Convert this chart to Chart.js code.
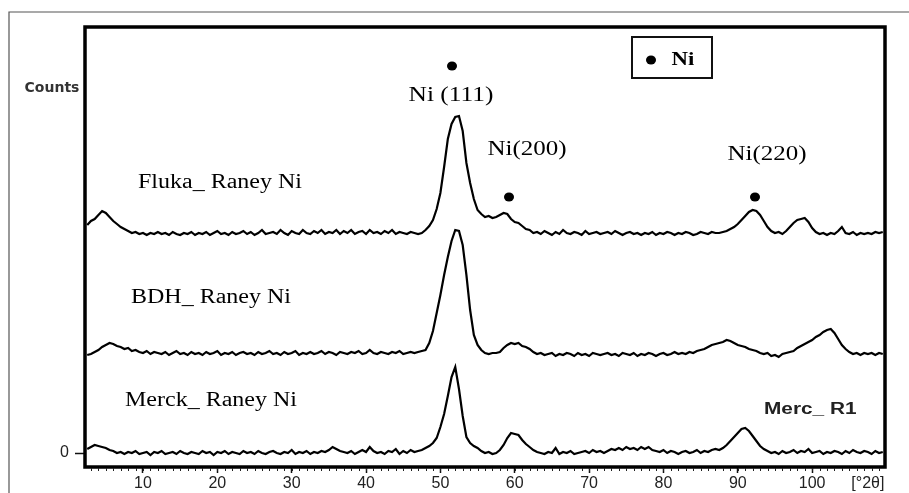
<!DOCTYPE html>
<html>
<head>
<meta charset="utf-8">
<script src="https://cdn.jsdelivr.net/npm/chart.js@4.4.1/dist/chart.umd.min.js"></script>
<style>
  html, body { margin: 0; padding: 0; background: #fff; }
  #xrd { display: block; }
</style>
</head>
<body>
<canvas id="xrd" width="909" height="493"></canvas>
<script>
// 2-theta positions (degrees), shared by the three patterns
const angles = [
  2.5, 3, 3.5, 4, 4.5, 5, 5.5, 6, 6.5, 7,
  7.5, 8, 8.5, 9, 9.5, 10, 10.5, 11, 11.5, 12,
  12.5, 13, 13.5, 14, 14.5, 15, 15.5, 16, 16.5, 17,
  17.5, 18, 18.5, 19, 19.5, 20, 20.5, 21, 21.5, 22,
  22.5, 23, 23.5, 24, 24.5, 25, 25.5, 26, 26.5, 27,
  27.5, 28, 28.5, 29, 29.5, 30, 30.5, 31, 31.5, 32,
  32.5, 33, 33.5, 34, 34.5, 35, 35.5, 36, 36.5, 37,
  37.5, 38, 38.5, 39, 39.5, 40, 40.5, 41, 41.5, 42,
  42.5, 43, 43.5, 44, 44.5, 45, 45.5, 46, 46.5, 47,
  47.5, 48, 48.5, 49, 49.5, 50, 50.5, 51, 51.5, 52,
  52.5, 53, 53.5, 54, 54.5, 55, 55.5, 56, 56.5, 57,
  57.5, 58, 58.5, 59, 59.5, 60, 60.5, 61, 61.5, 62,
  62.5, 63, 63.5, 64, 64.5, 65, 65.5, 66, 66.5, 67,
  67.5, 68, 68.5, 69, 69.5, 70, 70.5, 71, 71.5, 72,
  72.5, 73, 73.5, 74, 74.5, 75, 75.5, 76, 76.5, 77,
  77.5, 78, 78.5, 79, 79.5, 80, 80.5, 81, 81.5, 82,
  82.5, 83, 83.5, 84, 84.5, 85, 85.5, 86, 86.5, 87,
  87.5, 88, 88.5, 89, 89.5, 90, 90.5, 91, 91.5, 92,
  92.5, 93, 93.5, 94, 94.5, 95, 95.5, 96, 96.5, 97,
  97.5, 98, 98.5, 99, 99.5, 100, 100.5, 101, 101.5, 102,
  102.5, 103, 103.5, 104, 104.5, 105, 105.5, 106, 106.5, 107,
  107.5, 108, 108.5, 109, 109.5
];

// counts, stacked patterns (offsets already in the values)
const fluka = [
  2280, 2320, 2340, 2380, 2420, 2400, 2360, 2320, 2290, 2260,
  2240, 2220, 2200, 2210, 2190, 2200, 2180, 2200, 2190, 2210,
  2190, 2200, 2180, 2210, 2190, 2180, 2200, 2190, 2210, 2180,
  2200, 2190, 2210, 2180, 2200, 2220, 2190, 2200, 2180, 2210,
  2190, 2200, 2220, 2190, 2210, 2180, 2200, 2230, 2190, 2200,
  2210, 2190, 2230, 2200, 2180, 2220, 2200, 2190, 2230, 2200,
  2190, 2220, 2200, 2230, 2190, 2210, 2200, 2230, 2190, 2220,
  2200, 2230, 2190, 2210, 2220, 2190, 2230, 2200, 2210, 2190,
  2220, 2200, 2230, 2190, 2210, 2200, 2190, 2210, 2200, 2190,
  2200, 2230, 2270, 2330, 2440, 2600, 2860, 3140, 3290, 3360,
  3370, 3220, 2900, 2700, 2540, 2430, 2390, 2360, 2370, 2350,
  2360, 2380, 2400, 2390, 2340, 2310, 2300, 2270, 2240, 2230,
  2200, 2210, 2190, 2220, 2200, 2180, 2210, 2190, 2230, 2200,
  2190, 2210, 2200, 2180, 2220, 2190, 2200, 2210, 2190, 2200,
  2210, 2190, 2220, 2200, 2180, 2200, 2210, 2190, 2200, 2180,
  2200, 2190, 2210, 2180, 2200, 2190, 2210, 2200, 2180, 2200,
  2190, 2210, 2200, 2180, 2190, 2210, 2200, 2190, 2210, 2200,
  2200, 2210, 2220, 2240, 2260, 2290, 2330, 2370, 2410, 2430,
  2420, 2380, 2320, 2260, 2220, 2200, 2210, 2190, 2220, 2260,
  2300, 2330, 2340, 2350, 2310, 2250, 2210, 2190, 2200, 2180,
  2200, 2190, 2220, 2260, 2200, 2190, 2210, 2180, 2200, 2190,
  2200, 2190, 2210, 2200, 2210
];

const bdh = [
  980, 990, 1010, 1030, 1060, 1080, 1100, 1090, 1070, 1060,
  1040, 1050, 1020, 1030, 1010, 1000, 1020, 990, 1010, 1000,
  990, 1010, 980, 1000, 1020, 990, 1000, 980, 1010, 990,
  1000, 980, 1010, 990, 1000, 1020, 980, 1000, 990, 1010,
  980, 1000, 1010, 990, 1000, 980, 1010, 990, 1000, 1020,
  990, 1000, 980, 1010, 990, 1000, 1020, 980, 1000, 990,
  1010, 990, 1000, 1020, 990, 1010, 1000, 980, 1010, 1000,
  990, 1010, 1000, 1020, 990, 1000, 1030, 1000, 990, 1010,
  1000, 990, 1010, 1000, 1020, 990, 1000, 1010, 1000, 1010,
  1020, 1030, 1100, 1220, 1400, 1580, 1780, 1960, 2120, 2230,
  2220, 2080, 1780, 1430, 1180, 1080, 1030, 1000, 990, 1000,
  1000, 1010, 1050, 1080, 1100, 1090, 1100, 1070, 1060, 1040,
  1010, 990, 1000, 980, 990, 1000, 970, 990, 980, 1000,
  990, 970, 1000, 980, 990, 970, 1000, 990, 980, 990,
  1000, 980, 990, 970, 1000, 990, 980, 1000, 970, 990,
  980, 1000, 990, 970, 990, 1000, 980, 990, 1010, 990,
  1000, 990, 1010, 1000, 1020, 1030, 1040, 1060, 1080, 1090,
  1100, 1110, 1130, 1120, 1100, 1080, 1070, 1060, 1040, 1030,
  1020, 1000, 990, 1000, 970, 980, 960, 990, 1000, 1010,
  1020, 1050, 1070, 1090, 1110, 1130, 1160, 1180, 1210, 1230,
  1240, 1200, 1140, 1080, 1040, 1010, 990, 1000, 980, 1000,
  990, 1000, 980, 1000, 990
];

const merck = [
  40, 60, 80, 70, 60, 50, 30, 20, 0, 10,
  -10, 10, 0, 20, -10, 0, 10, -20, 10, 0,
  20, -10, 0, 10, -10, 20, 0, -10, 10, 0,
  -10, 20, 0, 10, -20, 10, 0, 20, -10, 10,
  0, -10, 20, 0, 10, -10, 20, 0, -10, 10,
  20, 0, -10, 10, 0, 30, -10, 10, 0, 20,
  -10, 10, 0, 20, 10, 30, 60, 40, 20, 10,
  0, 20, -10, 10, 30, 10, 60, 20, 0, 10,
  -10, 20, 10, 40, -10, 20, 0, 30, 10, 20,
  30, 50, 70, 100, 150, 260, 390, 570, 760, 860,
  640, 370, 160, 100, 70, 50, 20, 0, 10, -10,
  0, 30, 80, 150, 200, 190, 180, 130, 90, 60,
  30, 10, 0, -10, 10, 0, 50, -10, 10, 0,
  20, -10, 0, 10, 20, 0, 30, 10, 20, 0,
  20, 40, 30, 50, 30, 60, 40, 50, 30, 60,
  40, 60, 30, 20, 10, 30, 0, 20, 10, -10,
  10, 20, 0, 10, 30, 0, 20, 10, 30, 40,
  30, 50, 80, 120, 160, 200, 240, 250, 220, 170,
  120, 70, 40, 20, 0, 10, -10, 20, 0, 10,
  30, 0, 20, 10, 40, 0, 10, 20, -10, 10,
  0, 20, 10, -10, 20, 0, 30, 10, 0, 20,
  10, -10, 20, 0, 10
];

const xTicks = [10, 20, 30, 40, 50, 60, 70, 80, 90, 100];
const yTicks = [0];

function toPoints(values) {
  return angles.map((a, i) => ({ x: a, y: values[i] }));
}

function stretchText(ctx, text, x, y, sx, align) {
  ctx.save();
  ctx.translate(x, y);
  ctx.scale(sx, 1);
  ctx.textAlign = align || 'center';
  ctx.textBaseline = 'middle';
  ctx.fillText(text, 0, 0);
  ctx.restore();
}

function dot(ctx, x, y) {
  ctx.beginPath();
  ctx.ellipse(x, y, 5, 4.5, 0, 0, Math.PI * 2);
  ctx.fill();
}

const decorations = {
  id: 'decorations',
  beforeDraw(chart) {
    const ctx = chart.ctx;
    ctx.save();
    ctx.fillStyle = '#fff';
    ctx.fillRect(0, 0, chart.width, chart.height);
    // thin outer frame
    ctx.strokeStyle = '#555';
    ctx.lineWidth = 1.2;
    ctx.beginPath();
    ctx.moveTo(9, chart.height + 2);
    ctx.lineTo(9, 12);
    ctx.lineTo(chart.width + 2, 12);
    ctx.stroke();
    ctx.restore();
  },
  afterDraw(chart) {
    const ctx = chart.ctx;
    const a = chart.chartArea;
    const xs = chart.scales.x;
    ctx.save();

    // heavy plot frame
    ctx.strokeStyle = '#000';
    ctx.lineWidth = 3.5;
    ctx.strokeRect(a.left, a.top, a.right - a.left, a.bottom - a.top);

    // minor ticks every degree under the axis
    ctx.lineWidth = 1;
    ctx.strokeStyle = '#222';
    ctx.beginPath();
    for (let d = 3; d <= 109; d++) {
      const px = Math.round(xs.getPixelForValue(d)) + 0.5;
      ctx.moveTo(px, a.bottom + 1);
      ctx.lineTo(px, a.bottom + 4);
    }
    ctx.stroke();

    // axis title for counts
    ctx.fillStyle = '#333';
    ctx.font = 'bold 14px "DejaVu Sans"';
    stretchText(ctx, 'Counts', 52, 88, 1, 'center');

    // peak labels
    ctx.fillStyle = '#000';
    ctx.font = '20px "Liberation Serif"';
    stretchText(ctx, 'Ni (111)', 451, 96, 1.27);
    stretchText(ctx, 'Ni(200)', 527, 150, 1.25);
    stretchText(ctx, 'Ni(220)', 767, 155, 1.25);

    // pattern labels
    stretchText(ctx, 'Fluka_ Raney Ni', 138, 183, 1.2, 'left');
    stretchText(ctx, 'BDH_ Raney Ni', 131, 298, 1.2, 'left');
    stretchText(ctx, 'Merck_ Raney Ni', 125, 401, 1.2, 'left');

    ctx.fillStyle = '#222';
    ctx.font = 'bold 16px "Liberation Sans"';
    stretchText(ctx, 'Merc_ R1', 764, 410, 1.3, 'left');

    // peak markers
    ctx.fillStyle = '#000';
    dot(ctx, 452, 66);
    dot(ctx, 509, 197);
    dot(ctx, 755, 197);

    // legend box
    ctx.lineWidth = 2;
    ctx.strokeStyle = '#111';
    ctx.strokeRect(632, 37, 80, 41);
    dot(ctx, 651, 60);
    ctx.font = 'bold 19px "Liberation Serif"';
    stretchText(ctx, 'Ni', 683, 60, 1.2);

    ctx.restore();
  }
};

new Chart(document.getElementById('xrd'), {
  type: 'line',
  data: {
    datasets: [
      { label: 'Fluka_ Raney Ni', data: toPoints(fluka) },
      { label: 'BDH_ Raney Ni', data: toPoints(bdh) },
      { label: 'Merck_ Raney Ni', data: toPoints(merck) }
    ].map(d => Object.assign(d, {
      borderColor: '#000',
      borderWidth: 2.2,
      pointRadius: 0,
      tension: 0,
      fill: false
    }))
  },
  options: {
    responsive: false,
    animation: false,
    devicePixelRatio: 1,
    layout: { padding: { top: 27, right: 24, bottom: 0, left: 0 } },
    plugins: {
      legend: { display: false },
      tooltip: { enabled: false }
    },
    scales: {
      x: {
        type: 'linear',
        min: 2.2,
        max: 109.8,
        afterBuildTicks: s => { s.ticks = xTicks.concat([107.5]).map(v => ({ value: v })); },
        afterFit: s => { s.height = 26; },
        border: { display: false },
        grid: {
          drawOnChartArea: false,
          tickLength: 6,
          tickWidth: 1.5,
          tickColor: c => (c.tick && c.tick.value > 105 ? 'rgba(0,0,0,0)' : '#111')
        },
        ticks: {
          autoSkip: false,
          maxRotation: 0,
          padding: 1,
          color: '#222',
          font: { family: 'Liberation Sans', size: 16 },
          callback: v => (v > 105 ? '[°2θ]' : v)
        }
      },
      y: {
        min: -140,
        max: 4260,
        afterBuildTicks: s => { s.ticks = yTicks.map(v => ({ value: v })); },
        afterFit: s => { s.width = 85; },
        border: { display: false },
        grid: {
          drawOnChartArea: false,
          tickLength: 10,
          tickWidth: 1.5,
          tickColor: '#111'
        },
        ticks: {
          padding: 6,
          color: '#222',
          font: { family: 'Liberation Sans', size: 16 }
        }
      }
    }
  },
  plugins: [decorations]
});
</script>
</body>
</html>
